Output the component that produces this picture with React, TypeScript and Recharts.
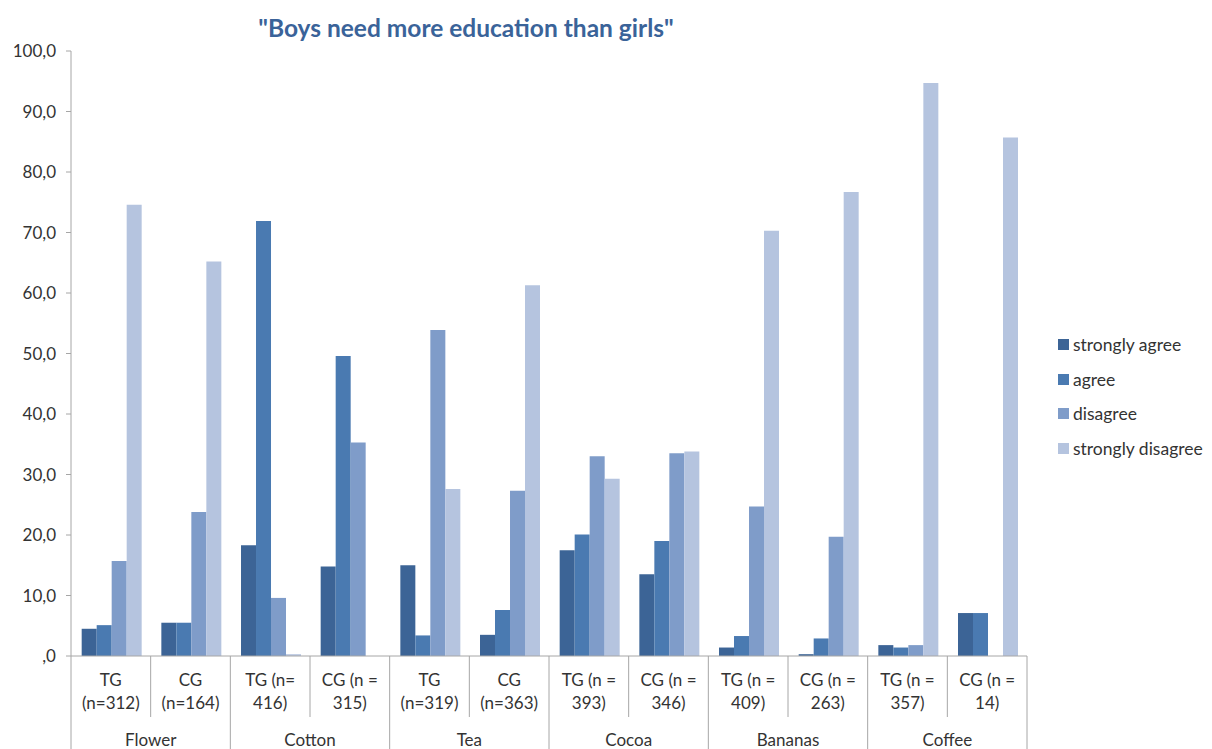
import React from "react";
import { BarChart, Bar, XAxis, YAxis, Legend } from "recharts";

const categories = ["Flower", "Cotton", "Tea", "Cocoa", "Bananas", "Coffee"];
const groupLine1 = ["TG", "CG", "TG (n=", "CG (n =", "TG", "CG", "TG (n =", "CG (n =", "TG (n =", "CG (n =", "TG (n =", "CG (n ="];
const groupLine2 = ["(n=312)", "(n=164)", "416)", "315)", "(n=319)", "(n=363)", "393)", "346)", "409)", "263)", "357)", "14)"];

const stronglyAgree = [4.5, 5.5, 18.3, 14.8, 15.0, 3.5, 17.5, 13.5, 1.4, 0.3, 1.8, 7.1];
const agree = [5.1, 5.5, 71.9, 49.6, 3.4, 7.6, 20.1, 19.0, 3.3, 2.9, 1.4, 7.1];
const disagree = [15.7, 23.8, 9.6, 35.3, 53.9, 27.3, 33.0, 33.5, 24.7, 19.7, 1.8, 0];
const stronglyDisagree = [74.6, 65.2, 0.3, 0, 27.6, 61.3, 29.3, 33.8, 70.3, 76.7, 94.7, 85.7];

const yTicks = [0, 10, 20, 30, 40, 50, 60, 70, 80, 90, 100];

const seriesNames = ["strongly agree", "agree", "disagree", "strongly disagree"];
const seriesColors = ["#3C6496", "#4A7AB1", "#7F9CC9", "#B5C4DF"];

const data = groupLine1.map((_, i) => ({
  id: String(i),
  sa: stronglyAgree[i],
  a: agree[i],
  d: disagree[i],
  sd: stronglyDisagree[i],
}));

const FONT = "Lato, 'Open Sans', sans-serif";
const TEXT = "#333333";
const LINE = "#A6A6A6";

const W = 1204;
const H = 741;
const M = { top: 43, right: 185, bottom: 0, left: 0 };
const YW = 63;
const XH = 93;

const XTick = (props: any) => {
  const { x, y, payload } = props;
  const i: number = payload.index;
  const fallback = (W - M.left - M.right - YW) / groupLine1.length / 2;
  const half = payload.offset && payload.offset > 0 ? payload.offset : fallback;
  const isFirstOfPair = i % 2 === 0;
  return (
    <g>
      <text x={x} y={y + 30} textAnchor="middle" fill={TEXT} fontSize={17} fontFamily={FONT}>
        {groupLine1[i]}
      </text>
      <text x={x} y={y + 53} textAnchor="middle" fill={TEXT} fontSize={17} fontFamily={FONT}>
        {groupLine2[i]}
      </text>
      <line
        x1={x - half}
        x2={x - half}
        y1={y}
        y2={isFirstOfPair ? y + XH : y + 61}
        stroke={LINE}
        strokeWidth={1}
      />
      {i === groupLine1.length - 1 && (
        <line x1={x + half} x2={x + half} y1={y} y2={y + XH} stroke={LINE} strokeWidth={1} />
      )}
      {isFirstOfPair && (
        <text x={x + half} y={y + 90} textAnchor="middle" fill={TEXT} fontSize={17} fontFamily={FONT}>
          {categories[i / 2]}
        </text>
      )}
    </g>
  );
};

const LegendContent = (props: any) => {
  const items = [...(props.payload || [])].sort(
    (p: any, q: any) => seriesNames.indexOf(p.value) - seriesNames.indexOf(q.value)
  );
  return (
    <div style={{ fontFamily: FONT }}>
      {items.map((it: any, k: number) => (
        <div key={k} style={{ display: "flex", alignItems: "center", height: 34.7 }}>
          <span style={{ width: 11, height: 11, background: it.color, display: "inline-block" }} />
          <span style={{ marginLeft: 4, fontSize: 17.5, color: TEXT, whiteSpace: "nowrap" }}>{it.value}</span>
        </div>
      ))}
    </div>
  );
};

export default function App() {
  return (
    <div style={{ width: W, height: H, fontFamily: FONT }}>
      <BarChart width={W} height={H} data={data} margin={M} barCategoryGap="13.4%" barGap={0}>
        <text
          x={458}
          y={29}
          textAnchor="middle"
          fill="#3A6399"
          fontSize={24.5}
          fontWeight="bold"
          fontFamily={FONT}
        >
          "Boys need more education than girls"
        </text>
        <XAxis
          dataKey="id"
          type="category"
          height={XH}
          interval={0}
          tickLine={false}
          tickSize={0}
          tickMargin={0}
          axisLine={{ stroke: LINE }}
          tick={<XTick />}
        />
        <YAxis
          width={YW}
          domain={[0, 100]}
          ticks={yTicks}
          interval={0}
          axisLine={{ stroke: LINE }}
          tickLine={{ stroke: LINE }}
          tickSize={5}
          tickMargin={10}
          tick={{ fill: TEXT, fontSize: 17, fontFamily: FONT }}
          tickFormatter={(v: number) => (v === 0 ? ",0" : `${v},0`)}
        />
        <Legend
          layout="vertical"
          align="center"
          verticalAlign="middle"
          wrapperStyle={{ left: 1050, top: 319, width: 160 }}
          content={<LegendContent />}
        />
        <Bar dataKey="sa" name={seriesNames[0]} fill={seriesColors[0]} isAnimationActive={false} />
        <Bar dataKey="a" name={seriesNames[1]} fill={seriesColors[1]} isAnimationActive={false} />
        <Bar dataKey="d" name={seriesNames[2]} fill={seriesColors[2]} isAnimationActive={false} />
        <Bar dataKey="sd" name={seriesNames[3]} fill={seriesColors[3]} isAnimationActive={false} />
      </BarChart>
    </div>
  );
}
